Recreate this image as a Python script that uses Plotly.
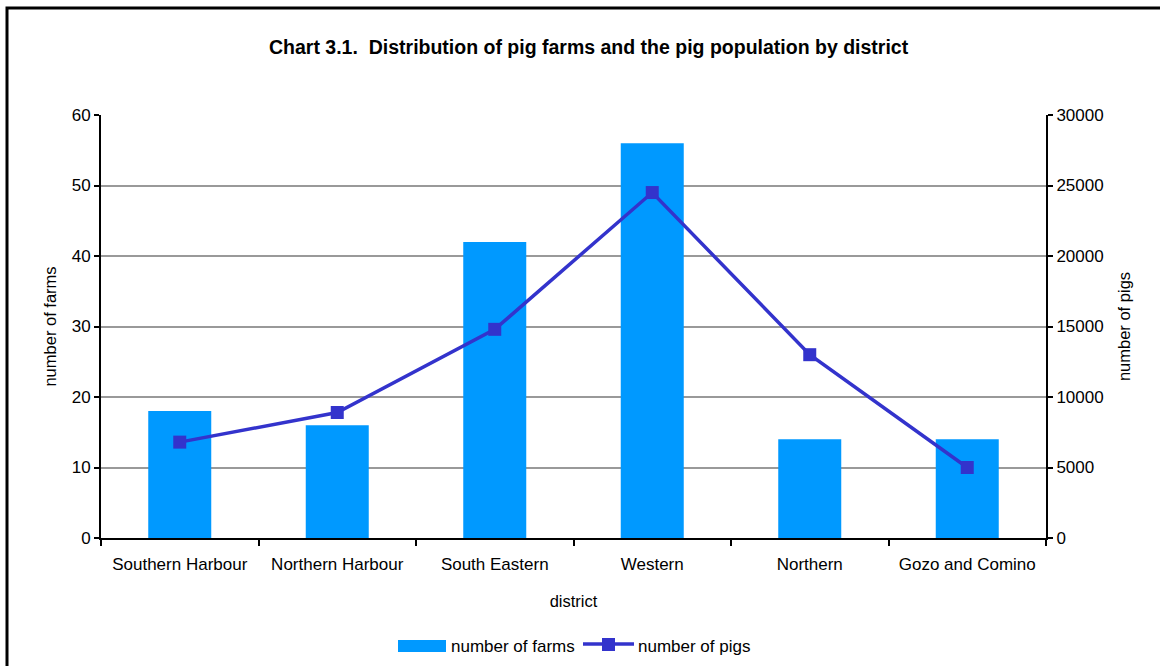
import plotly.graph_objects as go

districts = ["Southern Harbour", "Northern Harbour", "South Eastern", "Western", "Northern", "Gozo and Comino"]
farms = [18, 16, 42, 56, 14, 14]
pigs = [6800, 8900, 14800, 24500, 13000, 5000]

L, R, T, B = 101, 1046, 115, 538
W, H = 1160, 666
pw, ph = R - L, B - T

def px(x):
    return (x - L) / pw

def py(y):
    return (B - y) / ph

FONT = "Liberation Sans, Arial, sans-serif"
BAR_COLOR = "#0099FF"
LINE_COLOR = "#3333CC"

fig = go.Figure()
fig.add_trace(go.Bar(x=districts, y=farms, name="number of farms",
                     marker=dict(color=BAR_COLOR, line=dict(width=0)), yaxis="y", showlegend=False))
fig.add_trace(go.Scatter(x=districts, y=pigs, name="number of pigs", mode="lines+markers",
                         line=dict(color=LINE_COLOR, width=3.5),
                         marker=dict(symbol="square", size=13, color=LINE_COLOR),
                         yaxis="y2", showlegend=False))

fig.update_layout(
    width=W, height=H,
    margin=dict(l=L, r=W - R, t=T, b=H - B, autoexpand=False),
    paper_bgcolor="white", plot_bgcolor="white",
    font=dict(family=FONT, size=17, color="black"),
    bargap=0.6,
    xaxis=dict(type="category", showline=True, linecolor="black", linewidth=2,
               ticks="outside", tickson="boundaries", ticklen=6, tickwidth=2, tickcolor="black",
               showgrid=False, tickfont=dict(size=17), ticklabelstandoff=10,
               title=dict(text="district", font=dict(size=16.5), standoff=22)),
    yaxis=dict(range=[0, 60], dtick=10, showline=True, linecolor="black", linewidth=2,
               ticks="outside", ticklen=5, tickwidth=2, tickcolor="black",
               showgrid=True, gridcolor="#999999", gridwidth=1.8, zeroline=False,
               tickfont=dict(size=17),
               title=dict(text="number of farms", font=dict(size=16.5), standoff=11)),
    yaxis2=dict(range=[0, 30000], dtick=5000, tickformat="d", overlaying="y", side="right",
                showline=True, linecolor="black", linewidth=2, ticks="outside", ticklen=5,
                tickwidth=2, tickcolor="black", showgrid=False, zeroline=False,
                tickfont=dict(size=17),
                title=dict(text="number of pigs", font=dict(size=16.5), standoff=16)),
)

fig.add_annotation(text="<b>Chart 3.1.  Distribution of pig farms and the pig population by district</b>",
                   xref="paper", yref="paper", x=px(589), y=py(47), xanchor="center", yanchor="middle",
                   showarrow=False, font=dict(size=19.5, family=FONT, color="black"))

# legend (drawn)
fig.add_shape(type="rect", xref="paper", yref="paper",
              x0=px(398), x1=px(446), y0=py(652), y1=py(640),
              line=dict(width=0), fillcolor=BAR_COLOR)
fig.add_annotation(text="number of farms", xref="paper", yref="paper", x=px(449), y=py(646),
                   xanchor="left", yanchor="middle", showarrow=False, font=dict(size=17))
fig.add_shape(type="line", xref="paper", yref="paper",
              x0=px(583), x1=px(634), y0=py(644), y1=py(644),
              line=dict(color=LINE_COLOR, width=3.5))
fig.add_shape(type="rect", xref="paper", yref="paper",
              x0=px(602), x1=px(615), y0=py(651), y1=py(638),
              line=dict(width=0), fillcolor=LINE_COLOR)
fig.add_annotation(text="number of pigs", xref="paper", yref="paper", x=px(636), y=py(646),
                   xanchor="left", yanchor="middle", showarrow=False, font=dict(size=17))

# outer frame
fig.add_shape(type="rect", xref="paper", yref="paper",
              x0=px(7), y0=py(720), x1=px(1220), y1=py(8),
              line=dict(color="black", width=3), fillcolor="rgba(0,0,0,0)", layer="below")

fig.write_html("out.html", config={"displayModeBar": False},
               post_script="document.body.style.margin='0';document.body.style.overflow='hidden';")
